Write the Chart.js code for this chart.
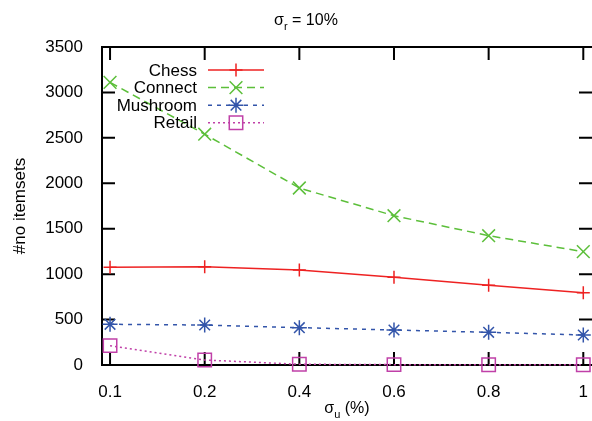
<!DOCTYPE html>
<html>
<head>
<meta charset="utf-8">
<script src="https://cdn.jsdelivr.net/npm/chart.js@4.4.0/dist/chart.umd.min.js"></script>
<style>
  html, body { margin: 0; padding: 0; background: #fff; }
  #wrap { width: 592px; height: 421px; position: relative; }
</style>
</head>
<body>
<div id="wrap"><canvas id="chart"></canvas></div>
<script>
const sigmaU = ['0.1', '0.2', '0.4', '0.6', '0.8', '1'];
const chess = [1075, 1080, 1045, 965, 877, 796];
const connect = [3110, 2540, 1948, 1643, 1423, 1247];
const mushroom = [448, 440, 411, 385, 360, 330];
const retail = [213, 55, 8, 4, 3, 2];
const yTicks = [0, 500, 1000, 1500, 2000, 2500, 3000, 3500];

const FONT = '"Liberation Sans", Arial, sans-serif';

function series(label, values, color, dash, style, radius) {
    return {
        label: label,
        data: values.map((v, i) => ({ x: i, y: v })),
        borderColor: color,
        borderWidth: 1.5,
        borderDash: dash,
        pointStyle: style,
        pointRadius: radius,
        pointHoverRadius: radius,
        pointBorderColor: color,
        pointBackgroundColor: 'transparent',
        pointBorderWidth: 1.5,
        tension: 0,
        fill: false,
        clip: false,
    };
}

// text with a subscript, centred on cx
function drawSub(ctx, cx, y, base, sub, rest, size) {
    ctx.font = size + 'px ' + FONT;
    const w1 = ctx.measureText(base).width;
    const w3 = ctx.measureText(rest).width;
    ctx.font = Math.round(size * 0.7) + 'px ' + FONT;
    const w2 = ctx.measureText(sub).width;
    let x = cx - (w1 + w2 + w3) / 2;
    ctx.fillStyle = '#000';
    ctx.textAlign = 'left';
    ctx.textBaseline = 'alphabetic';
    ctx.font = size + 'px ' + FONT;
    ctx.fillText(base, x, y);
    x += w1;
    ctx.font = Math.round(size * 0.7) + 'px ' + FONT;
    ctx.fillText(sub, x, y + 5);
    x += w2;
    ctx.font = size + 'px ' + FONT;
    ctx.fillText(rest, x, y);
}

const framePlugin = {
    id: 'frame',
    beforeDatasetsDraw(chart) {
        const { ctx, chartArea: a, scales } = chart;
        ctx.save();
        ctx.strokeStyle = '#000';
        ctx.lineWidth = 2;
        ctx.beginPath();
        ctx.moveTo(a.right + 2, a.top);
        ctx.lineTo(a.left, a.top);
        ctx.lineTo(a.left, a.bottom);
        ctx.lineTo(a.right + 2, a.bottom);
        const t = 13;
        scales.y.ticks.forEach(tk => {
            const y = scales.y.getPixelForValue(tk.value);
            ctx.moveTo(a.left, y); ctx.lineTo(a.left + t, y);
            ctx.moveTo(a.right, y); ctx.lineTo(a.right - t, y);
        });
        scales.x.ticks.forEach(tk => {
            const x = scales.x.getPixelForValue(tk.value);
            ctx.moveTo(x, a.bottom); ctx.lineTo(x, a.bottom - t);
            ctx.moveTo(x, a.top); ctx.lineTo(x, a.top + t);
        });
        ctx.stroke();
        ctx.restore();
    },
    afterDraw(chart) {
        const { ctx, chartArea: a } = chart;
        ctx.save();
        drawSub(ctx, 306, 25, '\u03c3', 'r', ' = 10%', 16);
        drawSub(ctx, (a.left + a.right) / 2, 413, '\u03c3', 'u', ' (%)', 16);
        ctx.restore();
    }
};

const legendPlugin = {
    id: 'keyBox',
    afterDatasetsDraw(chart) {
        const ctx = chart.ctx;
        ctx.save();
        chart.data.datasets.forEach((ds, i) => {
            const y = 70 + i * 17.6;
            ctx.font = '17px ' + FONT;
            ctx.fillStyle = '#000';
            ctx.textAlign = 'right';
            ctx.textBaseline = 'middle';
            ctx.fillText(ds.label, 197, y + 1);
            ctx.strokeStyle = ds.borderColor;
            ctx.lineWidth = ds.borderWidth;
            ctx.setLineDash(ds.borderDash);
            ctx.beginPath();
            ctx.moveTo(208, y);
            ctx.lineTo(264, y);
            ctx.stroke();
            ctx.setLineDash([]);
            ctx.lineWidth = ds.pointBorderWidth;
            ctx.fillStyle = 'transparent';
            Chart.helpers.drawPoint(ctx, {
                pointStyle: ds.pointStyle,
                radius: ds.pointRadius,
                rotation: 0,
                borderWidth: ds.pointBorderWidth
            }, 236, y);
        });
        ctx.restore();
    }
};

new Chart(document.getElementById('chart'), {
    type: 'line',
    data: {
        datasets: [
            series('Chess', chess, '#ee2222', [], 'cross', 6.5),
            series('Connect', connect, '#5cbf3a', [8, 5], 'crossRot', 9),
            series('Mushroom', mushroom, '#3355aa', [4, 5], 'star', 7.5),
            series('Retail', retail, '#c040a8', [2, 3], 'rect', 9.5),
        ],
    },
    options: {
        responsive: true,
        maintainAspectRatio: false,
        animation: false,
        layout: { autoPadding: false, padding: { top: 47, left: 0, right: 0, bottom: 0 } },
        plugins: {
            legend: { display: false },
            title: { display: false },
            tooltip: { enabled: false },
        },
        scales: {
            x: {
                type: 'linear',
                min: -0.085,
                max: 5.092,
                afterBuildTicks: s => { s.ticks = sigmaU.map((_, i) => ({ value: i })); },
                afterFit: s => { s.height = 56; s.paddingLeft = 0; s.paddingRight = 0; },
                ticks: {
                    callback: v => sigmaU[v],
                    color: '#000',
                    font: { family: FONT, size: 17 },
                    padding: 9,
                    maxRotation: 0,
                    autoSkip: false,
                },
                grid: { display: false },
                border: { display: false },
            },
            y: {
                min: 0,
                max: 3500,
                afterBuildTicks: s => { s.ticks = yTicks.map(v => ({ value: v })); },
                afterFit: s => { s.width = 102; },
                ticks: {
                    callback: v => String(v),
                    color: '#000',
                    font: { family: FONT, size: 17 },
                    padding: 11,
                },
                title: {
                    display: true,
                    text: '#no itemsets',
                    color: '#000',
                    font: { family: FONT, size: 17 },
                    padding: { top: 10, bottom: 0 },
                },
                grid: { display: false },
                border: { display: false },
            },
        },
    },
    plugins: [framePlugin, legendPlugin],
});
</script>
</body>
</html>
